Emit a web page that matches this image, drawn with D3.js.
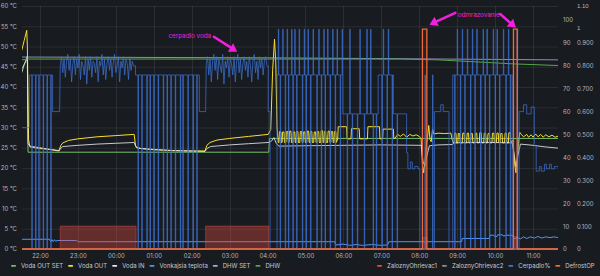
<!DOCTYPE html>
<html><head><meta charset="utf-8">
<script src="https://cdn.jsdelivr.net/npm/d3@7"></script>
<style>
html,body{margin:0;padding:0;background:#181b1f;}
svg{display:block;font-family:Inter,"Open Sans",sans-serif;}
</style></head><body>
<svg id="c" width="600" height="276"></svg>
<script>
// ================= DATA =================
const hourTicks = ["22:00","23:00","00:00","01:00","02:00","03:00","04:00","05:00","06:00","07:00","08:00","09:00","10:00","11:00"];
const tempTicks = [0,5,10,15,20,25,30,35,40,45,50,55,60];
const pctTicks = [0,10,20,30,40,50,60,70,80,90,100];
const fracTicks = [0,0.1,0.2,0.3,0.4,0.5,0.6,0.7,0.8,0.9];
const fracTopLabels = ["1","1.10"];

const seriesNames = ["Voda OUT SET","Voda OUT","Voda IN","Vonkajsia teplota","DHW SET","DHW"];
const seriesNames2 = ["ZaloznyOhrievac1","ZaloznyOhrievac2","Cerpadlo%","DefrostOP"];

const vodaOutSet = [["21:31",44.5],["21:40",47],["21:41",23.9],["04:02",23.9],["04:03",27.3],["11:40",27.3]];

const vodaOutA = [["21:31",49],["21:35",51.5],["21:39",54],["21:40",50],["21:41",38],["21:42",27],["21:44",25.2],
 ["22:00",24.8],["22:15",24.6],["22:30",24.3],["22:33",25.6],["22:36",26.2],["22:45",26.8],["23:00",27.2],
 ["23:30",27.7],["00:00",28],["00:29",28.3],["00:31",25.6],["00:34",24.9],["01:00",24.5],["01:30",24.3],
 ["02:00",24.2],["02:21",24.2],["02:24",25.6],["02:29",26.3],["02:40",26.9],["03:00",27.3],["03:30",27.8],
 ["04:01",28.3],["04:05",29.5],["04:08",44],["04:11",51.8],["04:13",46],["04:15",30],["04:17",26.3]];
const vodaOutHumpsA = [["04:18","04:21",29],["04:23","04:26",28.9],["04:29","04:32",29],["04:34","04:37",29.1],
 ["04:40","04:43",28.9],["04:45","04:48",29],["04:51","04:54",29],["04:56","04:59",28.9],["05:02","05:05",29.1],
 ["05:07","05:10",29],["05:13","05:16",28.9],["05:18","05:21",29],["05:24","05:27",29.2],["05:29","05:32",29],
 ["05:35","05:38",29.1],["05:40","05:43",29],["05:45","05:48",29]];
const vodaOutHumpsB = [["05:51","06:05",30.2],["06:12","06:25",29.7],["06:38","06:57",30.2],["07:02","07:19",29.6]];
const vodaOutB = [["07:22",27.4],["07:26",28.3],["07:30",27.8],["07:35",28.4],["07:40",27.6],["07:45",28.3],
 ["07:50",27.9],["07:55",28.2],["08:00",27.8],["08:03",27.2],["08:05",21],["08:07",18.8],["08:09",21.5],
 ["08:11",25.5],["08:13",27.5],["08:15",30.5],["08:17",27],["08:19",26.5],["08:21",29.6],["08:23",28.4],
 ["08:30",28.6],["08:40",28.5],["08:50",28.6],["08:53",26.4]];
const vodaOutHumpsC = [["08:55","08:58",28.6],["09:01","09:04",28.5],["09:08","09:11",28.6],["09:15","09:18",28.6],
 ["09:21","09:24",28.5],["09:28","09:31",28.6],["09:35","09:38",28.7],["09:42","09:45",28.6],["09:48","09:51",28.5],
 ["09:55","09:58",28.6],["10:02","10:05",28.6],["10:08","10:11",28.5],["10:15","10:18",28.6],["10:21","10:24",28.7]];
const vodaOutC = [["10:26",26.6],["10:28",26.8],["10:31",21],["10:33",18.8],["10:35",22.5],["10:37",26],
 ["10:39",28.8],["10:42",28.2],["10:45",27.7],["10:50",28.3],["10:53",27.6],["10:57",28.2],["11:00",27.6],
 ["11:04",28.4],["11:08",27.7],["11:12",28.3],["11:16",27.6],["11:20",28.2],["11:25",27.7],["11:30",28.1],
 ["11:35",27.6],["11:40",27.9]];

const vodaIn = [["21:31",43.5],["21:35",45.5],["21:40",47.6],["21:41",26],["21:44",25.4],["22:00",25.0],
 ["22:15",24.6],["22:30",24.2],["22:33",24.9],["22:36",25.3],["23:00",25.6],["23:30",25.9],["00:00",26.1],
 ["00:29",26.3],["00:32",25.1],["00:40",24.8],["01:00",24.6],["01:30",24.3],["02:00",24.2],["02:21",24.1],
 ["02:24",24.8],["02:30",25.3],["03:00",25.7],["03:30",26.0],["04:01",26.3],["04:06",26.6],["04:10",27.5],
 ["04:14",26],["04:18",25.4],["05:00",25.5],["06:00",25.6],["07:00",25.7],["08:03",25.6],["08:06",21.5],
 ["08:09",20.5],["08:12",23],["08:16",25.5],["08:30",25.7],["08:52",25.8],["08:56",26.2],["09:30",26.3],
 ["10:00",26.3],["10:27",26.2],["10:30",23.5],["10:33",20.3],["10:36",23],["10:40",25.9],["11:00",25.6],
 ["11:20",25.2],["11:40",24.9]];

const vonkajsia = [["21:31",2.4],["22:15",2.4],["22:17",1.8],["22:19",2.3],["22:21",1.8],["22:23",2.3],
 ["22:25",1.9],["22:27",2.1],["22:58",2.1],["23:00",1.8],["05:46",1.8],["05:48",1.0],["06:00",1.2],
 ["06:10",0.9],["06:20",1.1],["06:30",0.9],["06:45",1.1],["07:00",0.9],["07:10",1.0],["07:12",1.8],
 ["08:08",1.8],["08:10",1.4],["08:12",1.8],["09:07",1.8],["09:08",2.6],["09:51",2.6],["09:52",3.4],
 ["09:58",3.4],["09:59",3.1],["10:03",3.1],["10:04",3.5],["10:12",3.5],["10:13",3.2],["10:18",3.4],
 ["10:27",3.4],["10:30",2.6],["10:36",2.8],["10:40",2.5],["10:45",3.0],["10:50",2.6],["10:56",3.0],
 ["11:02",2.7],["11:08",3.1],["11:14",2.7],["11:20",3.0],["11:27",2.8],["11:33",3.0],["11:40",2.8]];

const dhwSet = [["21:31",47.4],["04:00",47.2],["08:40",46.9],["11:40",46.7]];
const dhw = [["21:31",46.7],["21:40",46.9],["04:00",46.9],["07:30",46.9],["08:30",46.7],["09:30",46.2],["10:30",45.7],["11:40",45.3]];

// ZaloznyOhrievac1 / DefrostOP on-intervals [start, end, value] (right axis)
const zalozny1On = [["22:32","00:32",0.1],["02:22","04:02",0.1],["08:05","08:12",0.05],["10:29","10:35",0.055]];
const defrostOn = [["08:05","08:12",0.96],["10:29","10:35",0.96]];

// Cerpadlo% (middle axis): level changes, noisy samples and short toggles
const cerpadloBase = [["21:31",53],["21:43",76],["22:20",60],["22:31",60],
 ["00:31",76],["02:12",60],["02:22",60],
 ["04:01",60],["04:04",0],["04:15",76],["05:59",59],["06:55",76],["07:19",59],
 ["07:38",59],["07:40",42],["07:42",35],["07:46",38],["07:49",35],["07:53",36],["07:58",35],["08:01",0],
 ["08:24",60],["08:34",63],["08:38",60],["08:47",0],["08:53",76],
 ["10:27",0],["10:38",60],["10:45",63],["10:50",59],["10:57",62],["11:02",45],["11:05",34],["11:10",36],
 ["11:13",34],["11:18",37],["11:21",35],["11:26",37],["11:29",35],["11:34",36],["11:40",35]];
const noiseAStart = "22:32";
const noiseA = [80,84,77,83,75,82,85,78,83,73,81,84,76,83,79,85,74,82,80,76,84,72,83,78,84,75,82,81,77,84,
 73,82,80,85,76,83,74,81,84,78,83,75,82,85,77,80,84,73,82,79,84,76,83,81,74,84,78,82,80];
const noiseBStart = "02:23";
const noiseB = [81,84,76,83,73,82,85,78,84,74,83,80,77,85,72,82,79,84,75,83,81,76,84,73,82,
 85,77,83,74,81,84,78,82,75,84,80,73,83,85,77,82,74,84,79,83,76,82,84,80];
const noiseStepMin = 2;
const cerpadloDrops = ["21:47","21:53","21:58","22:05","22:11","22:17",
 "00:35","00:41","00:49","00:54","01:00","01:07","01:15","01:21","01:27","01:34","01:42","01:46","01:54","02:02","02:08",
 "04:20","04:28","04:33","04:40","04:46","04:55","05:01","05:08","05:18","05:25","05:31","05:39","05:47","05:55",
 "06:06","06:14","06:22","06:33","06:47","06:52","07:01","07:09","07:17","07:25",
 "08:56","09:05","09:12","09:21","09:28","09:37","09:44","09:51","10:00","10:07","10:17","10:24"];
const cerpadloSpikes = ["04:17","04:24","04:31","04:38","04:43","04:50","04:58","05:04","05:12","05:21","05:29","05:35","05:43","05:50","05:58",
 "06:10","06:26","06:37","06:43","07:03","07:11",
 "09:00","09:08","09:16","09:24","09:31","09:41","09:47","09:57","10:03","10:13","10:21","10:35"];
const cerpadloPulses76 = ["08:09","08:21"];
const spikeLevel = 96, pulseLevel = 76;

// annotations [text, time, temperature]
const annoTexts = [["cerpadlo voda","01:57",52.6],["odmrazovanie","09:34",57.8]];
const annoArrows = [["02:35",52.4,"03:12",48.7],["08:57",58.3,"08:16",55.4],["10:08",58,"10:33",54.6]];

// ================= DRAW =================
const parseT = s => { const [h,m] = s.split(":").map(Number); return new Date(2024,0,h>=20?1:2,h,m); };
const addMin = (d,m) => new Date(d.getTime()+m*60000);
const P = arr => arr.map(([t,v]) => [parseT(t), v]);

const L=22, R=558, TOP=6, BOT=249;
const svg = d3.select("#c");
const x = d3.scaleTime().domain([new Date(2024,0,1,21,31,30), new Date(2024,0,2,11,39,30)]).range([L,R]);
const yT = d3.scaleLinear().domain([0,60]).range([BOT,TOP]);
const yP = d3.scaleLinear().domain([0,100]).range([BOT,20]);
const yF = d3.scaleLinear().domain([0,1]).range([BOT,20]);

const gridC = "rgba(204,204,220,0.10)";
const tickC = "#b4b5bf";
const FS = 6;

// grid
svg.append("g").selectAll("line").data(tempTicks).join("line")
 .attr("x1",L).attr("x2",R).attr("y1",d=>yT(d)+0.5).attr("y2",d=>yT(d)+0.5).attr("stroke",gridC);
svg.append("g").selectAll("line").data(hourTicks).join("line")
 .attr("x1",d=>Math.round(x(parseT(d)))+0.5).attr("x2",d=>Math.round(x(parseT(d)))+0.5)
 .attr("y1",TOP).attr("y2",BOT).attr("stroke",gridC);

// axes
const axL = svg.append("g").attr("transform",`translate(17,0)`)
 .call(d3.axisLeft(yT).tickValues(tempTicks).tickSize(0).tickPadding(0).tickFormat(d=>`${d} °C`));
const axM = svg.append("g").attr("transform",`translate(563,0)`)
 .call(d3.axisRight(yP).tickValues(pctTicks).tickSize(0).tickPadding(0).tickFormat(d3.format("d")));
const axR = svg.append("g").attr("transform",`translate(577,0)`)
 .call(d3.axisRight(yF).tickValues(fracTicks).tickSize(0).tickPadding(0).tickFormat(d=>d===0?"0":d3.format(".3f")(d)));
const axB = svg.append("g").attr("transform",`translate(0,256)`)
 .call(d3.axisBottom(x).tickValues(hourTicks.map(parseT)).tickSize(0).tickPadding(0).tickFormat(d3.timeFormat("%H:%M")));
[axL,axM,axR,axB].forEach(g=>{ g.select(".domain").remove(); g.selectAll("text").attr("fill",tickC).style("font-size",FS+"px").style("font-family","Inter"); });
axB.selectAll("text").attr("dy","0.35em").attr("y",0);
axR.append("text").attr("x",0).attr("y",28.5).attr("dy","0.32em").attr("fill",tickC).style("font-size",FS+"px").text(fracTopLabels[0]);
axR.append("text").attr("x",0).attr("y",6).attr("dy","0.32em").attr("fill",tickC).style("font-size",FS+"px").text(fracTopLabels[1]);

// clip
svg.append("clipPath").attr("id","pc").append("rect").attr("x",L).attr("y",0).attr("width",R-L).attr("height",BOT+1.5);
const plot = svg.append("g").attr("clip-path","url(#pc)");

const lineT = d3.line().x(d=>x(d[0])).y(d=>yT(d[1]));
const lineF = d3.line().x(d=>x(d[0])).y(d=>yF(d[1]));
const lineP = d3.line().x(d=>x(d[0])).y(d=>yP(d[1]));
const d0 = x.domain()[0], d1 = x.domain()[1];

function humps(list,bottom){ const p=[]; list.forEach(([s,e,top])=>{const S=parseT(s),E=parseT(e);
  p.push([S,bottom],[addMin(S,0.8),top],[E,top],[addMin(E,0.8),bottom]);}); return p; }
function pulses(list){ const p=[[d0,0]]; list.forEach(([s,e,v])=>{const S=parseT(s),E=parseT(e); p.push([S,0],[S,v],[E,v],[E,0]);}); p.push([d1,0]); return p; }

const colors = {outSet:"#73BF69", out:"#FADE2A", inn:"#E6E6EE", vonk:"#5794F2", dhwSet:"#A9A9E6", dhw:"#56A64B",
  z1:"#E24D42", z2:"#8E8E8E", cerp:"#3D72D6", def:"#F06A3C"};

const vodaOut = P(vodaOutA).concat(humps(vodaOutHumpsA,26.3), humps(vodaOutHumpsB,27.2), P(vodaOutB), humps(vodaOutHumpsC,26.2), P(vodaOutC)).sort((a,b)=>a[0]-b[0]);

// Cerpadlo build: level changes as steps, noise samples linear, toggles as thin pulses
function buildCerp(){
  const all = P(cerpadloBase).map(d=>({t:d[0],v:d[1],k:"b"}));
  noiseA.forEach((v,i)=>all.push({t:addMin(parseT(noiseAStart),i*noiseStepMin),v,k:"n"}));
  noiseB.forEach((v,i)=>all.push({t:addMin(parseT(noiseBStart),i*noiseStepMin),v,k:"n"}));
  cerpadloDrops.forEach(t=>all.push({t:parseT(t),v:0,k:"e"}));
  cerpadloSpikes.forEach(t=>all.push({t:parseT(t),v:spikeLevel,k:"e"}));
  cerpadloPulses76.forEach(t=>all.push({t:parseT(t),v:pulseLevel,k:"e"}));
  all.sort((a,b)=>(a.t-b.t)||(a.k==="e"?1:-1));
  const pts=[]; let cur=null;
  all.forEach(e=>{
    if(e.k==="b"){ if(cur!==null) pts.push([e.t,cur]); pts.push([e.t,e.v]); cur=e.v; }
    else if(e.k==="n"){ pts.push([e.t,e.v]); cur=e.v; }
    else { const t2=addMin(e.t,0.7); pts.push([e.t,cur],[e.t,e.v],[t2,e.v],[t2,cur]); }
  });
  pts.push([d1,cur]);
  return pts;
}

// series in Grafana order
plot.append("path").attr("d",lineT(P(vodaOutSet))).attr("fill","none").attr("stroke",colors.outSet).attr("stroke-width",1);
plot.append("path").attr("d",lineT(vodaOut)).attr("fill","none").attr("stroke",colors.out).attr("stroke-width",1);
plot.append("path").attr("d",lineT(P(vodaIn))).attr("fill","none").attr("stroke",colors.inn).attr("stroke-width",1).attr("stroke-opacity",0.85);
plot.append("path").attr("d",lineT(P(vonkajsia))).attr("fill","none").attr("stroke",colors.vonk).attr("stroke-width",1);
plot.append("path").attr("d",lineT(P(dhwSet))).attr("fill","none").attr("stroke",colors.dhwSet).attr("stroke-width",1).attr("stroke-opacity",0.8);
plot.append("path").attr("d",lineT(P(dhw))).attr("fill","none").attr("stroke",colors.dhw).attr("stroke-width",1);

const z1 = pulses(zalozny1On);
plot.append("path").attr("d",d3.area().x(d=>x(d[0])).y0(yF(0)).y1(d=>yF(d[1]))(z1)).attr("fill",colors.z1).attr("fill-opacity",0.38);
plot.append("path").attr("d",lineF(z1)).attr("fill","none").attr("stroke",colors.z1).attr("stroke-width",1).attr("stroke-opacity",0.45);
plot.append("path").attr("d",lineF([[d0,0],[d1,0]])).attr("fill","none").attr("stroke",colors.z2).attr("stroke-width",1);

plot.append("path").attr("d",lineP(buildCerp())).attr("fill","none").attr("stroke",colors.cerp).attr("stroke-width",1).attr("stroke-opacity",0.72);

const df = pulses(defrostOn);
plot.append("path").attr("d",d3.area().x(d=>x(d[0])).y0(yF(0)).y1(d=>yF(d[1]))(df)).attr("fill",colors.def).attr("fill-opacity",0.08);
plot.append("path").attr("d",lineF(df)).attr("fill","none").attr("stroke",colors.def).attr("stroke-width",1.3);

// annotations
const mag = "#F020DC";
annoTexts.forEach(([t,tm,v])=>{
  svg.append("text").attr("x",x(parseT(tm))).attr("y",yT(v)).attr("dy","0.35em").attr("text-anchor","middle")
   .attr("fill",mag).style("font-size","6.3px").text(t);
});
annoArrows.forEach(([t1,v1,t2,v2])=>{
  const x1=x(parseT(t1)),y1=yT(v1),x2=x(parseT(t2)),y2=yT(v2);
  const a=Math.atan2(y2-y1,x2-x1), hl=8, hw=5;
  const bx=x2-hl*Math.cos(a), by=y2-hl*Math.sin(a);
  svg.append("line").attr("x1",x1).attr("y1",y1).attr("x2",bx).attr("y2",by).attr("stroke",mag).attr("stroke-width",2.6).attr("stroke-linecap","round");
  svg.append("polygon").attr("fill",mag).attr("points",[[x2,y2],[bx+hw*Math.sin(a),by-hw*Math.cos(a)],[bx-hw*Math.sin(a),by+hw*Math.cos(a)]].map(p=>p.join(",")).join(" "));
});

// legend
const legC = "#c8c9d2";
function legend(names, cols, startX){
  let cx = startX;
  names.forEach((n,i)=>{
    svg.append("rect").attr("x",cx).attr("y",265).attr("width",5).attr("height",1.8).attr("rx",0.8).attr("fill",cols[i]);
    const t = svg.append("text").attr("x",cx+10).attr("y",266).attr("dy","0.35em").attr("fill",legC).style("font-size",FS+"px").text(n);
    cx += 10 + t.node().getComputedTextLength() + 5;
  });
}
legend(seriesNames,[colors.outSet,colors.out,colors.inn,colors.vonk,colors.dhwSet,colors.dhw],11);
legend(seriesNames2,[colors.z1,colors.z2,colors.cerp,colors.def],377);
</script>
</body></html>
